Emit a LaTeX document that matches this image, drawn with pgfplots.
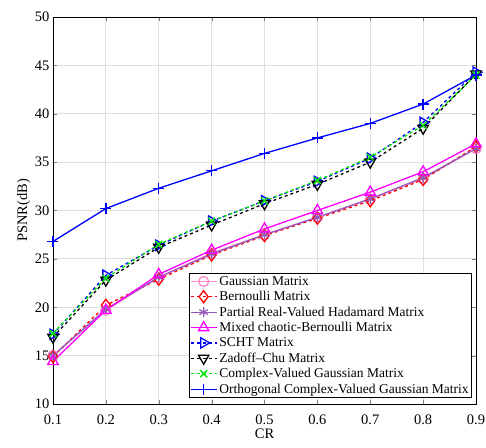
\documentclass[border=0pt]{standalone}
\usepackage{pgfplots}
\pgfplotsset{compat=1.18}
\usepackage{fontspec}
\setmainfont{Liberation Serif}

\definecolor{gpink}{RGB}{255,140,200}
\definecolor{hpurple}{RGB}{150,90,190}
\definecolor{cgreen}{RGB}{0,230,0}
\definecolor{mmag}{RGB}{255,0,255}
\definecolor{bblue}{RGB}{0,0,255}
\definecolor{rred}{RGB}{255,0,0}

\begin{document}
\begin{tikzpicture}
\begin{axis}[
    scale only axis,
    width=423pt, height=387pt,
    xmin=0.1, xmax=0.9,
    ymin=10, ymax=50,
    xtick={0.1,0.2,...,0.9},
    ytick={10,15,...,50},
    /pgf/number format/assume math mode=true,
    tick label style={font=\fontsize{14.5}{16}\selectfont},
    xticklabel style={yshift=-7pt, /pgf/number format/.cd, fixed, precision=1},
    label style={font=\fontsize{14.5}{16}\selectfont},
    xlabel={CR},
    ylabel={PSNR(dB)},
    xlabel style={yshift=2pt},
    ylabel style={yshift=-2pt},
    grid=major,
    major grid style={gray!25, line width=0.8pt},
    tick align=inside,
    tick pos=both,
    major tick length=4pt,
    axis line style={black, line width=0.7pt},
    every axis plot/.append style={line width=1.3pt},
    legend style={at={(rel axis cs:0.9905,0.0155)}, anchor=south east,
        font=\fontsize{13.5}{15}\selectfont, draw=black, line width=0.7pt,
        inner sep=1pt, row sep=0.6pt, cells={anchor=west}},
    legend image code/.code={\draw[mark repeat=2,mark phase=2,#1,line width=1.3pt]
        plot coordinates {(0pt,0pt) (13pt,0pt) (26pt,0pt)};},
]
\addplot[gpink, mark=o, mark size=5pt] coordinates {
(0.1,15.0) (0.2,19.7) (0.3,23.1) (0.4,25.6) (0.5,27.5) (0.6,29.3) (0.7,31.2) (0.8,33.3) (0.9,36.4)};
\addplot[rred, dashed, mark=diamond, mark size=6pt, mark options={solid}] coordinates {
(0.1,14.9) (0.2,20.2) (0.3,22.9) (0.4,25.4) (0.5,27.4) (0.6,29.2) (0.7,31.0) (0.8,33.2) (0.9,36.6)};
\addplot[hpurple, mark=asterisk, mark size=5pt] coordinates {
(0.1,15.0) (0.2,19.8) (0.3,23.1) (0.4,25.5) (0.5,27.5) (0.6,29.3) (0.7,31.2) (0.8,33.4) (0.9,36.4)};
\addplot[mmag, mark=triangle, mark size=6pt] coordinates {
(0.1,14.4) (0.2,19.7) (0.3,23.4) (0.4,25.9) (0.5,28.1) (0.6,30.0) (0.7,31.9) (0.8,34.0) (0.9,36.9)};
\addplot[bblue, dashed, mark=triangle, mark size=6pt, mark options={solid, rotate=-90}] coordinates {
(0.1,17.2) (0.2,23.3) (0.3,26.4) (0.4,28.9) (0.5,31.0) (0.6,33.0) (0.7,35.4) (0.8,39.1) (0.9,44.3)};
\addplot[black, dashed, mark=triangle, mark size=6pt, mark options={solid, rotate=180}] coordinates {
(0.1,16.9) (0.2,22.8) (0.3,26.2) (0.4,28.5) (0.5,30.7) (0.6,32.7) (0.7,35.0) (0.8,38.5) (0.9,44.1)};
\addplot[cgreen, dashed, mark=x, mark size=5pt, mark options={solid}] coordinates {
(0.1,17.3) (0.2,23.0) (0.3,26.5) (0.4,28.9) (0.5,31.0) (0.6,33.1) (0.7,35.5) (0.8,38.8) (0.9,44.0)};
\addplot[bblue, mark=+, mark size=5.5pt] coordinates {
(0.1,26.8) (0.2,30.2) (0.3,32.3) (0.4,34.1) (0.5,35.9) (0.6,37.5) (0.7,39.0) (0.8,41.0) (0.9,44.0)};
\legend{Gaussian Matrix, Bernoulli Matrix, Partial Real-Valued Hadamard Matrix,
Mixed chaotic-Bernoulli Matrix, SCHT Matrix, Zadoff--Chu Matrix,
Complex-Valued Gaussian Matrix, Orthogonal Complex-Valued Gaussian Matrix}
\end{axis}
\pgfresetboundingbox
\path (current axis.south west) ++(-53pt,-43pt) rectangle ++(486pt,447pt);
\end{tikzpicture}
\end{document}
